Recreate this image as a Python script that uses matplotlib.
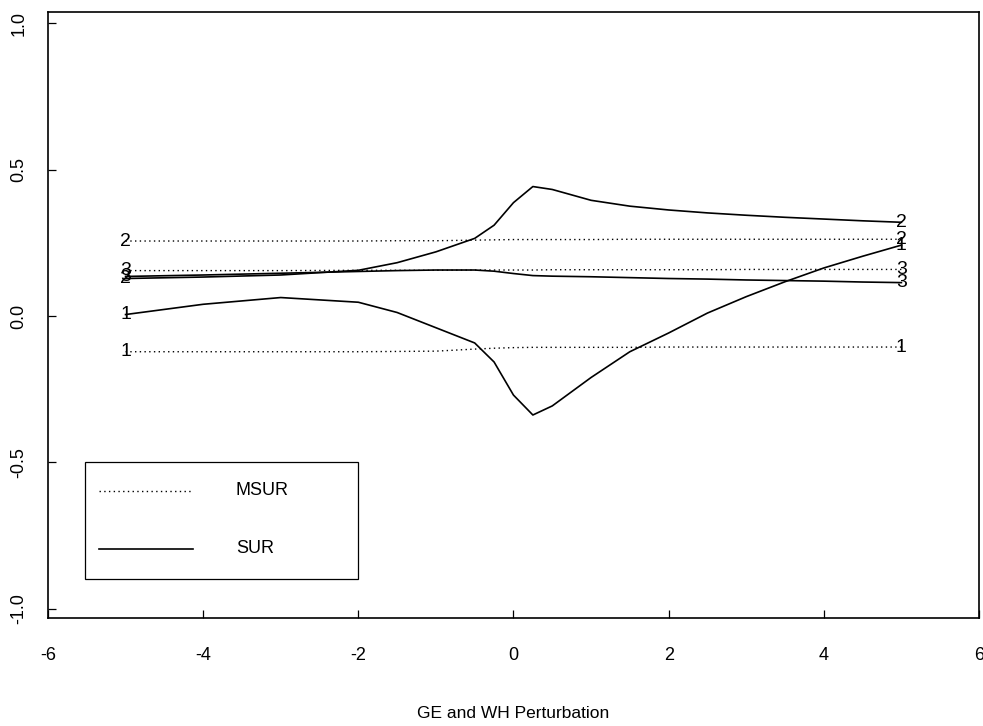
import matplotlib
matplotlib.use("Agg")
import matplotlib.pyplot as plt
from matplotlib.patches import Rectangle

plt.rcParams['font.family'] = ['Liberation Sans', 'DejaVu Sans']

# perturbation grid
x = [-5, -4, -3, -2, -1.5, -1, -0.5, -0.25, 0, 0.25, 0.5, 1, 1.5, 2, 2.5, 3, 3.5, 4, 4.5, 5]

# MSUR (dotted)
msur_1 = [-0.122, -0.122, -0.122, -0.122, -0.121, -0.120, -0.113, -0.110, -0.108, -0.107, -0.107,
          -0.107, -0.107, -0.106, -0.106, -0.106, -0.106, -0.106, -0.106, -0.106]
msur_2 = [0.256, 0.256, 0.256, 0.256, 0.257, 0.257, 0.259, 0.260, 0.261, 0.261, 0.261,
          0.261, 0.262, 0.262, 0.262, 0.262, 0.262, 0.262, 0.262, 0.262]
msur_3 = [0.155, 0.155, 0.155, 0.156, 0.156, 0.156, 0.157, 0.157, 0.157, 0.157, 0.158,
          0.158, 0.158, 0.158, 0.158, 0.159, 0.159, 0.159, 0.159, 0.159]

# SUR (solid)
sur_1 = [0.005, 0.040, 0.063, 0.047, 0.012, -0.040, -0.092, -0.157, -0.270, -0.338, -0.307,
         -0.210, -0.122, -0.058, 0.010, 0.066, 0.117, 0.164, 0.204, 0.242]
sur_2 = [0.128, 0.133, 0.140, 0.156, 0.182, 0.219, 0.265, 0.310, 0.387, 0.442, 0.432,
         0.395, 0.375, 0.362, 0.352, 0.344, 0.337, 0.331, 0.325, 0.320]
sur_3 = [0.135, 0.140, 0.146, 0.152, 0.155, 0.157, 0.157, 0.153, 0.145, 0.138, 0.136,
         0.134, 0.131, 0.128, 0.126, 0.123, 0.121, 0.119, 0.116, 0.114]

msur = {'1': msur_1, '2': msur_2, '3': msur_3}
sur = {'1': sur_1, '2': sur_2, '3': sur_3}

xticks = [-6, -4, -2, 0, 2, 4, 6]
yticks = [-1.0, -0.5, 0.0, 0.5, 1.0]

dotted = (0, (1, 2.4))

fig = plt.figure(figsize=(9.83, 7.26), dpi=100)
ax = fig.add_axes([0.0488, 0.1488, 0.9471, 0.8347])

for lab, vals in msur.items():
    ax.plot(x, vals, color='black', lw=1.0, linestyle=dotted)
for lab, vals in sur.items():
    ax.plot(x, vals, color='black', lw=1.2)

# curve labels at both ends (they overlap in the original too)
for series in (msur, sur):
    for lab, vals in series.items():
        for xi, yi in ((x[0], vals[0]), (x[-1], vals[-1])):
            ax.text(xi, yi, lab, fontsize=14, ha='center', va='center')

ax.set_xlim(-6, 6)
ax.set_ylim(-1.031, 1.038)
ax.set_xticks(xticks)
ax.set_xticklabels([f'{t:d}' for t in xticks])
ax.set_yticks(yticks)
ax.set_yticklabels([f'{t:.1f}' for t in yticks], rotation=90, va='center')
ax.tick_params(direction='in', length=6, width=0.9, labelsize=13)
ax.tick_params(axis='x', pad=21)
ax.tick_params(axis='y', pad=15)
for sp in ax.spines.values():
    sp.set_linewidth(1.2)

ax.set_xlabel('GE and WH Perturbation', fontsize=12.5, labelpad=30)

# legend box, drawn the S-plus way
tr = ax.transAxes
ax.add_patch(Rectangle((0.0397, 0.0644), 0.2933, 0.1926, transform=tr,
                       fill=False, edgecolor='black', lw=0.9))
ax.plot([0.0548, 0.1557], [0.2096, 0.2096], transform=tr, color='black', lw=1.0, linestyle=dotted)
ax.plot([0.0548, 0.1557], [0.1139, 0.1139], transform=tr, color='black', lw=1.2)
ax.text(0.2019, 0.2096, 'MSUR', transform=tr, fontsize=13, va='center')
ax.text(0.2019, 0.1139, 'SUR', transform=tr, fontsize=13, va='center')

fig.savefig('out.png', dpi=100)
